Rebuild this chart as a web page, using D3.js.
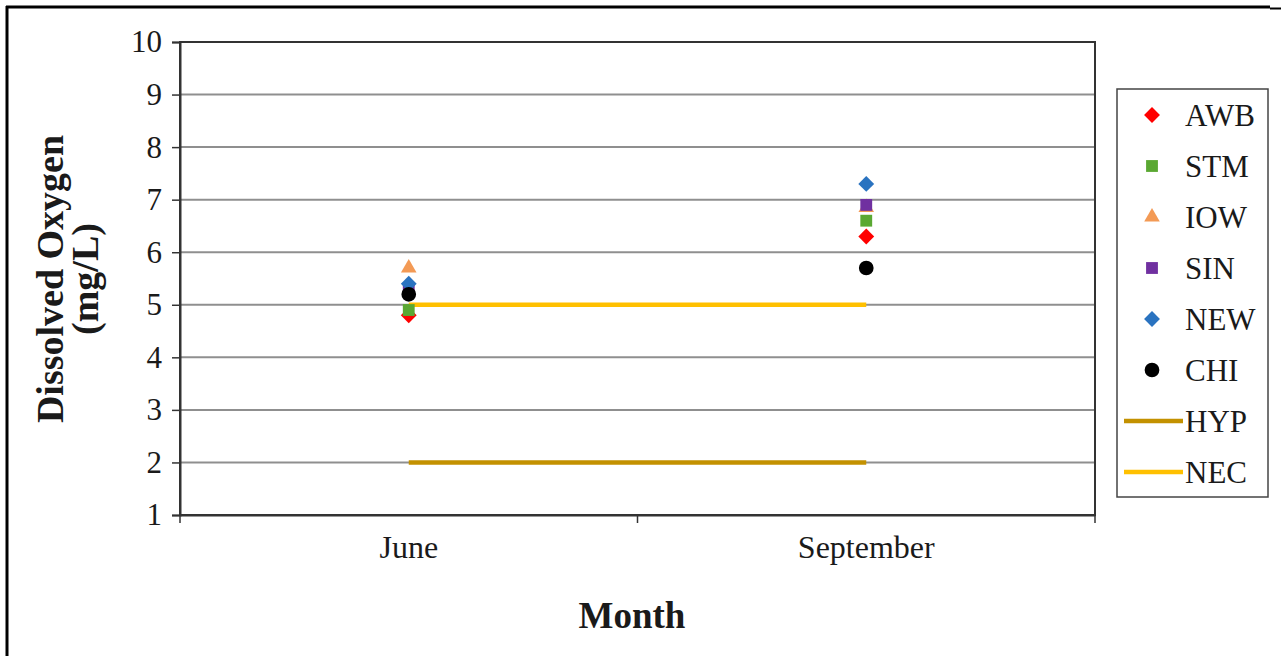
<!DOCTYPE html>
<html>
<head>
<meta charset="utf-8">
<script src="https://cdn.jsdelivr.net/npm/d3@7"></script>
<style>
  html, body { margin: 0; padding: 0; background: #fff; }
  svg { display: block; }
  svg text { font-family: "Liberation Serif", "Times New Roman", serif !important; fill: #1a1a1a; }
</style>
</head>
<body>
<script>
// ---- data ----
const categories = ["June", "September"];
const yTickValues = [1, 2, 3, 4, 5, 6, 7, 8, 9, 10];
const seriesNames = ["AWB", "STM", "IOW", "SIN", "NEW", "CHI"];
const seriesShapes = ["diamond", "square", "triangle", "square", "diamond", "circle"];
const seriesColors = ["#ff0000", "#5aa832", "#f39a55", "#7030a0", "#2a73c0", "#000000"];
const awbValues = [4.8, 6.3];
const stmValues = [4.9, 6.6];
const iowValues = [5.7, 6.85];
const sinValues = [5.3, 6.9];
const newValues = [5.4, 7.3];
const chiValues = [5.2, 5.7];
const lineNames = ["HYP", "NEC"];
const lineColors = ["#c39100", "#ffc000"];
const hypValues = [2, 2];
const necValues = [5, 5];

const seriesValues = [awbValues, stmValues, iowValues, sinValues, newValues, chiValues];
const lineValues = [hypValues, necValues];

// ---- layout ----
const W = 1281, H = 656;
const plot = { left: 180, right: 1095, top: 42, bottom: 515 };

const svg = d3.select("body").append("svg").attr("width", W).attr("height", H);

// outer frame (top and left edges visible)
svg.append("line").attr("x1", 6).attr("x2", 1270).attr("y1", 7).attr("y2", 7)
  .attr("stroke", "#000").attr("stroke-width", 3);
svg.append("line").attr("x1", 1270).attr("x2", W).attr("y1", 8.5).attr("y2", 8.5)
  .attr("stroke", "#000").attr("stroke-width", 2);
svg.append("line").attr("x1", 7).attr("x2", 7).attr("y1", 6).attr("y2", H)
  .attr("stroke", "#000").attr("stroke-width", 3);

const x = d3.scaleBand().domain(categories).range([plot.left, plot.right]).padding(0);
const xc = c => x(c) + x.bandwidth() / 2;
const y = d3.scaleLinear().domain([1, 10]).range([plot.bottom, plot.top]);

// gridlines
svg.append("g").selectAll("line").data(yTickValues.filter(v => v > 1 && v < 10)).join("line")
  .attr("x1", plot.left).attr("x2", plot.right)
  .attr("y1", d => y(d)).attr("y2", d => y(d))
  .attr("stroke", "#8f8f8f").attr("stroke-width", 2);

// plot border
svg.append("rect").attr("x", plot.left).attr("y", plot.top)
  .attr("width", plot.right - plot.left).attr("height", plot.bottom - plot.top)
  .attr("fill", "none").attr("stroke", "#333").attr("stroke-width", 2);

// y axis
const yAxis = d3.axisLeft(y).tickValues(yTickValues).tickSize(8).tickPadding(10).tickFormat(d3.format("d"));
const gy = svg.append("g").attr("transform", `translate(${plot.left},0)`).call(yAxis)
  .attr("font-family", null).attr("font-size", null);
gy.select(".domain").attr("stroke", "#333").attr("stroke-width", 2);
gy.selectAll(".tick line").attr("stroke", "#333").attr("stroke-width", 1.5);
gy.selectAll(".tick text").attr("font-size", 31).attr("fill", "#1a1a1a");

// x axis
const xAxis = d3.axisBottom(x).tickSize(0).tickPadding(20);
const gx = svg.append("g").attr("transform", `translate(0,${plot.bottom})`).call(xAxis)
  .attr("font-family", null).attr("font-size", null);
gx.select(".domain").attr("stroke", "#333").attr("stroke-width", 2);
gx.selectAll(".tick text").attr("font-size", 32).attr("fill", "#1a1a1a");
// tick marks at category boundaries
const boundaries = categories.map(c => x(c)).concat([x(categories[categories.length - 1]) + x.bandwidth()]);
svg.append("g").selectAll("line").data(boundaries).join("line")
  .attr("x1", d => d).attr("x2", d => d)
  .attr("y1", plot.bottom).attr("y2", plot.bottom + 8)
  .attr("stroke", "#333").attr("stroke-width", 1.5);

// reference lines
const lineGen = d3.line().x((d, i) => xc(categories[i])).y(d => y(d));
lineValues.forEach((vals, k) => {
  svg.append("path").datum(vals).attr("d", lineGen)
    .attr("fill", "none").attr("stroke", lineColors[k]).attr("stroke-width", 4.5);
});

// marker drawing
function symbolFor(shape) {
  if (shape === "diamond") return d3.symbol().type(d3.symbolDiamond2).size(160);
  if (shape === "square") return d3.symbol().type(d3.symbolSquare).size(140);
  if (shape === "triangle") return d3.symbol().type(d3.symbolTriangle).size(105);
  return d3.symbol().type(d3.symbolCircle).size(170);
}

seriesValues.forEach((vals, k) => {
  svg.append("g").selectAll("path").data(vals).join("path")
    .attr("d", symbolFor(seriesShapes[k])())
    .attr("transform", (d, i) => `translate(${xc(categories[i])},${y(d)})`)
    .attr("fill", seriesColors[k]);
});

// legend
const legend = { x: 1117, y: 89, w: 151, h: 408, step: 51, first: 115 };
svg.append("rect").attr("x", legend.x).attr("y", legend.y).attr("width", legend.w).attr("height", legend.h)
  .attr("fill", "#fff").attr("stroke", "#444").attr("stroke-width", 1.5);
seriesNames.forEach((name, k) => {
  const ly = legend.first + k * legend.step;
  svg.append("path").attr("d", symbolFor(seriesShapes[k])())
    .attr("transform", `translate(1152,${ly})`).attr("fill", seriesColors[k]);
  svg.append("text").attr("x", 1185).attr("y", ly).attr("dy", "0.35em")
    .attr("font-size", 31).text(name);
});
lineNames.forEach((name, k) => {
  const ly = legend.first + (seriesNames.length + k) * legend.step;
  svg.append("line").attr("x1", 1124).attr("x2", 1183).attr("y1", ly).attr("y2", ly)
    .attr("stroke", lineColors[k]).attr("stroke-width", 4.5);
  svg.append("text").attr("x", 1185).attr("y", ly).attr("dy", "0.35em")
    .attr("font-size", 31).text(name);
});

// axis titles
svg.append("text").attr("x", 632).attr("y", 615).attr("dy", "0.35em")
  .attr("text-anchor", "middle").attr("font-size", 37).attr("font-weight", "bold").text("Month");
const yt = svg.append("text").attr("transform", "translate(50,279) rotate(-90)")
  .attr("text-anchor", "middle").attr("font-size", 38).attr("font-weight", "bold");
yt.append("tspan").attr("x", 0).attr("dy", "0.35em").text("Dissolved Oxygen");
yt.append("tspan").attr("x", 0).attr("dy", "0.9em").text("(mg/L)");
</script>
</body>
</html>
